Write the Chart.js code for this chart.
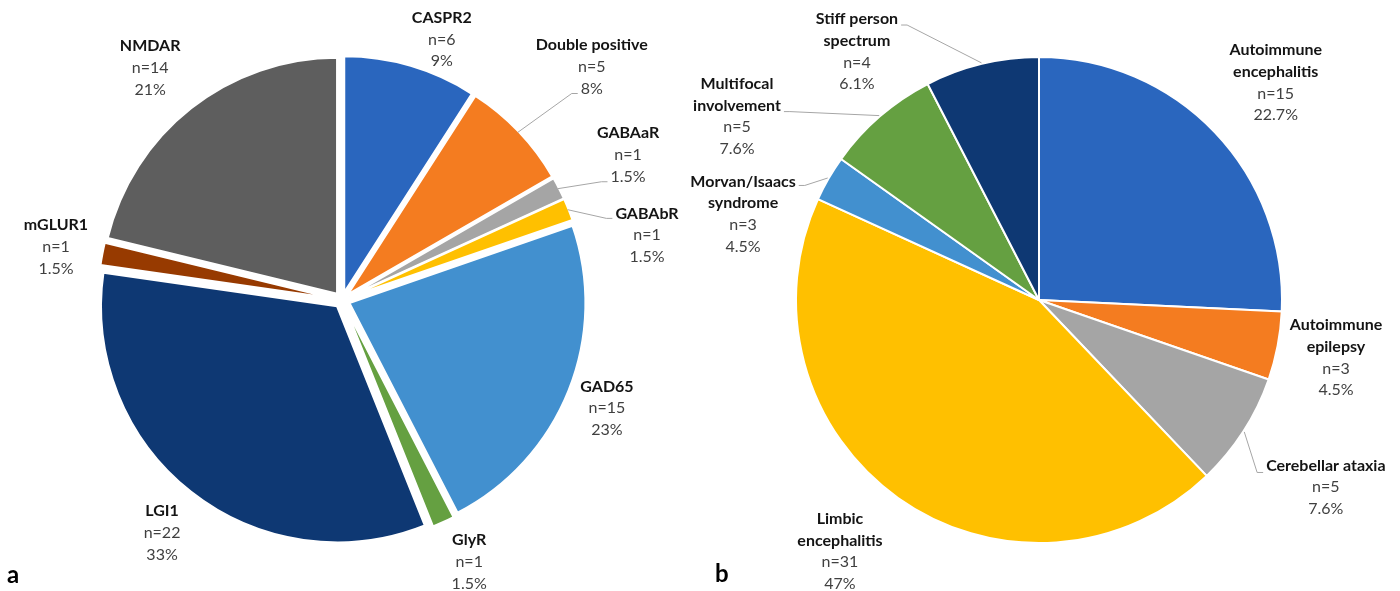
<!DOCTYPE html>
<html>
<head>
<meta charset="utf-8">
<script src="https://cdn.jsdelivr.net/npm/chart.js@4/dist/chart.umd.min.js"></script>
<style>
  html, body { margin: 0; padding: 0; background: #ffffff; }
  #wrap { position: relative; width: 1400px; height: 591px; overflow: hidden; background: #ffffff; }
  #wrap canvas { position: absolute; top: 0; }
  #chartA { left: 0; }
  #chartB { left: 600px; }
  .panel { position: absolute; font-family: Lato, "Open Sans", sans-serif; font-weight: 700; font-size: 24px; line-height: 24px; color: #000; }
</style>
</head>
<body>
<div id="wrap">
  <canvas id="chartA" width="700" height="591"></canvas>
  <canvas id="chartB" width="800" height="591"></canvas>
  <div class="panel" id="panelA" style="left:7px; top:562px;">a</div>
  <div class="panel" id="panelB" style="left:715px; top:561px;">b</div>
</div>
<script>
// ---------------- DATA ----------------
// Panel a: antibodies
const antibodyCategories = ['CASPR2', 'Double positive', 'GABAaR', 'GABAbR', 'GAD65', 'GlyR', 'LGI1', 'mGLUR1', 'NMDAR'];
const antibodyCounts = [6, 5, 1, 1, 15, 1, 22, 1, 14];
const antibodyCountLabels = ['n=6', 'n=5', 'n=1', 'n=1', 'n=15', 'n=1', 'n=22', 'n=1', 'n=14'];
const antibodyPercentLabels = ['9%', '8%', '1.5%', '1.5%', '23%', '1.5%', '33%', '1.5%', '21%'];

// Panel b: clinical syndromes
const syndromeCategories = [
  ['Autoimmune', 'encephalitis'],
  ['Autoimmune', 'epilepsy'],
  ['Cerebellar ataxia'],
  ['Limbic', 'encephalitis'],
  ['Morvan/Isaacs', 'syndrome'],
  ['Multifocal', 'involvement'],
  ['Stiff person', 'spectrum']
];
// slice sizes as drawn in the picture (measured from the slice angles)
const syndromeSliceValues = [17, 3, 5, 29, 2, 5, 5];
// counts / percentages printed in the picture's labels
const syndromeCountLabels = ['n=15', 'n=3', 'n=5', 'n=31', 'n=3', 'n=5', 'n=4'];
const syndromePercentLabels = ['22.7%', '4.5%', '7.6%', '47%', '4.5%', '7.6%', '6.1%'];

// ---------------- STYLE ----------------
const antibodyColors = ['#2A66BE', '#F47C20', '#A5A5A5', '#FFC000', '#4290CF', '#65A041', '#0E3873', '#973A00', '#5E5E5E'];
const syndromeColors = ['#2A66BE', '#F47C20', '#A5A5A5', '#FFC000', '#4290CF', '#65A041', '#0E3873'];

const FONT_FAMILY = 'Lato, "Open Sans", sans-serif';
const LABEL_FONT_SIZE = 16;
const LINE_HEIGHT = 21.7;

// label placement: distance from pie centre and angular shift (deg) from the slice bisector
const antibodyLabelLayout = {
  dist:  [279, 341.7, 320.7, 311.8, 286.2, 291.2, 294.4, 290.9, 301.1],
  shift: [4.6, 0.6, 0.4, 9.8, 0.4, -1.35, -0.5, -0.4, -1.4],
  leaderOut: 7,
  leaders: {
    1: { line: 2, side: 'left', dy: 5, startShift: 0 },
    2: { line: 2, side: 'left', dy: 5, startShift: 0 },
    3: { line: 0, side: 'left', dy: 5, startShift: 0 }
  }
};
const syndromeLabelLayout = {
  dist:  [321.3, 302.5, 342.5, 320.7, 308.2, 353.4, 308.0],
  shift: [1.1, 0.06, 0.4, 2.9, -13.8, -17.8, -22.6],
  leaderOut: 1,
  leaders: {
    2: { line: 0, side: 'left', dy: 7, startShift: 0 },
    4: { line: 0, side: 'right', dy: 4, startShift: 0 },
    5: { line: 1, side: 'right', dy: 6, startShift: 0 },
    6: { line: 0, side: 'right', dy: 6, startShift: 0 }
  }
};

// ---------------- PLUGINS ----------------
const explodePlugin = {
  id: 'explode',
  beforeDatasetDraw(chart, args, opts) {
    const d = opts && opts.distance;
    if (!d) return;
    args.meta.data.forEach(arc => {
      const mid = (arc.startAngle + arc.endAngle) / 2;
      arc.$base = { x: arc.x, y: arc.y };
      arc.x += Math.cos(mid) * d;
      arc.y += Math.sin(mid) * d;
    });
  },
  afterDatasetDraw(chart, args) {
    args.meta.data.forEach(arc => {
      if (arc.$base) { arc.x = arc.$base.x; arc.y = arc.$base.y; delete arc.$base; }
    });
  }
};

const pieLabelPlugin = {
  id: 'pieLabels',
  afterDatasetsDraw(chart, args, opts) {
    const ctx = chart.ctx;
    const meta = chart.getDatasetMeta(0);
    const L = opts.layout;
    const boldFont = '700 ' + LABEL_FONT_SIZE + 'px ' + FONT_FAMILY;
    const normFont = '400 ' + LABEL_FONT_SIZE + 'px ' + FONT_FAMILY;
    ctx.save();
    meta.data.forEach((arc, i) => {
      const mid = (arc.startAngle + arc.endAngle) / 2;
      const a = mid + L.shift[i] * Math.PI / 180;
      const cx = arc.x + Math.cos(a) * L.dist[i];
      const cy = arc.y + Math.sin(a) * L.dist[i];
      const name = [].concat(chart.data.labels[i]);
      const lines = name.map(t => ({ t: t, bold: true }))
        .concat([{ t: opts.counts[i], bold: false }, { t: opts.percents[i], bold: false }]);
      const top = cy - (lines.length - 1) * LINE_HEIGHT / 2;
      ctx.textAlign = 'center';
      ctx.textBaseline = 'middle';
      lines.forEach((ln, k) => {
        ctx.font = ln.bold ? boldFont : normFont;
        ctx.fillStyle = ln.bold ? '#141414' : '#404040';
        ctx.fillText(ln.t, cx, top + k * LINE_HEIGHT);
      });
      const ld = L.leaders[i];
      if (ld) {
        const ln = lines[ld.line];
        ctx.font = ln.bold ? boldFont : normFont;
        const w = ctx.measureText(ln.t).width;
        const y = top + ld.line * LINE_HEIGHT + ld.dy;
        const ex = ld.side === 'left' ? cx - w / 2 - 3 : cx + w / 2 + 3;
        const tx = ld.side === 'left' ? ex - 6 : ex + 6;
        const sa = mid + (ld.startShift || 0) * Math.PI / 180;
        const sr = arc.outerRadius + L.leaderOut;
        const sx = arc.x + Math.cos(sa) * sr;
        const sy = arc.y + Math.sin(sa) * sr;
        ctx.beginPath();
        ctx.moveTo(sx, sy);
        ctx.lineTo(tx, y);
        ctx.lineTo(ex, y);
        ctx.strokeStyle = '#A6A6A6';
        ctx.lineWidth = 1;
        ctx.stroke();
      }
    });
    ctx.restore();
  }
};

function makePie(canvasId, labels, values, colors, radius, padding, explode, layout, counts, percents) {
  return new Chart(document.getElementById(canvasId), {
    type: 'pie',
    data: {
      labels: labels,
      datasets: [{
        data: values,
        backgroundColor: colors,
        borderColor: '#ffffff',
        borderWidth: 2
      }]
    },
    options: {
      responsive: false,
      animation: false,
      events: [],
      devicePixelRatio: 1,
      radius: radius,
      layout: { padding: padding },
      plugins: {
        legend: { display: false },
        tooltip: { enabled: false },
        title: { display: false },
        explode: { distance: explode },
        pieLabels: { layout: layout, counts: counts, percents: percents }
      }
    },
    plugins: [explodePlugin, pieLabelPlugin]
  });
}

makePie('chartA', antibodyCategories, antibodyCounts, antibodyColors, 236,
  { left: 0, right: 16, top: 9, bottom: 0 }, 8, antibodyLabelLayout, antibodyCountLabels, antibodyPercentLabels);
makePie('chartB', syndromeCategories, syndromeSliceValues, syndromeColors, 243,
  { left: 78, right: 0, top: 9, bottom: 0 }, 0, syndromeLabelLayout, syndromeCountLabels, syndromePercentLabels);
</script>
</body>
</html>
